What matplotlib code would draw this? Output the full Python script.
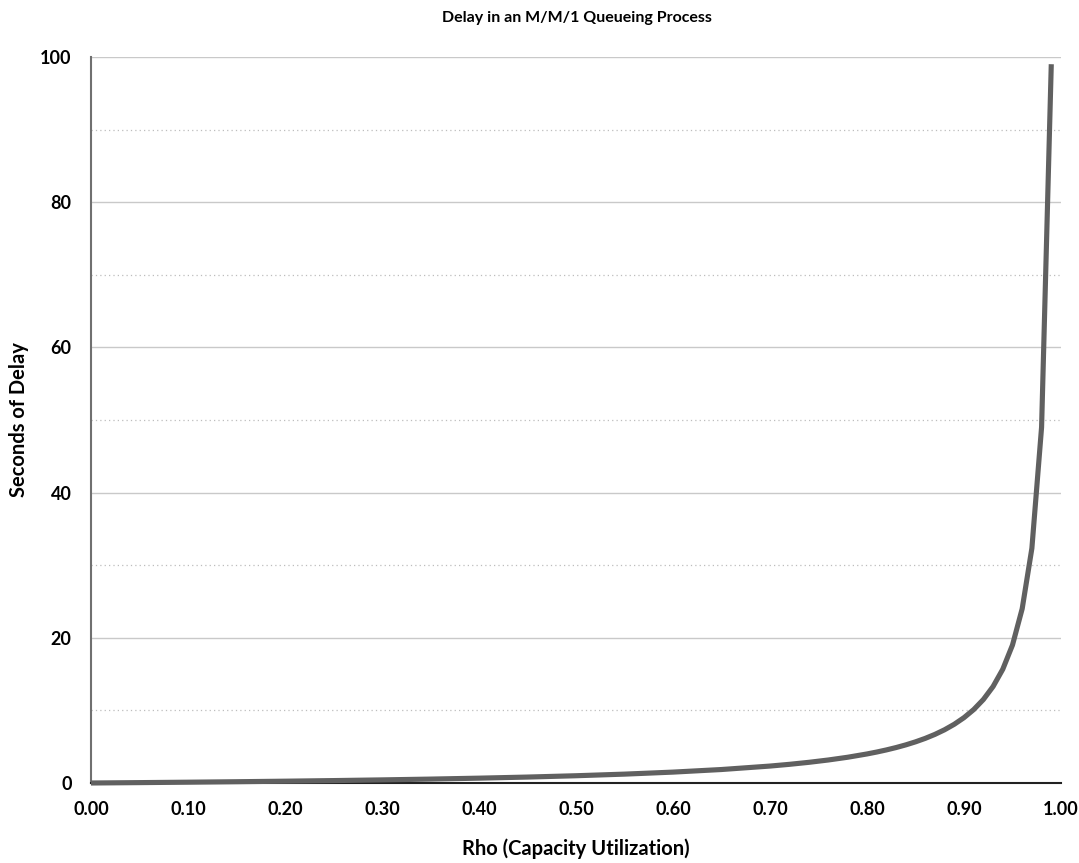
import matplotlib
matplotlib.use("Agg")
import matplotlib.pyplot as plt
from matplotlib.ticker import MultipleLocator, FormatStrFormatter

plt.rcParams['font.family'] = ['Lato', 'DejaVu Sans']

# Utilization (rho) and mean delay for an M/M/1 queue
rho = [0.00, 0.05, 0.10, 0.15, 0.20, 0.25, 0.30, 0.35, 0.40, 0.45,
       0.50, 0.55, 0.60, 0.65, 0.70, 0.72, 0.74, 0.76, 0.78, 0.80,
       0.81, 0.82, 0.83, 0.84, 0.85, 0.86, 0.87, 0.88, 0.89, 0.90,
       0.91, 0.92, 0.93, 0.94, 0.95, 0.96, 0.97, 0.98, 0.99]
delay = [0.0, 0.053, 0.111, 0.176, 0.25, 0.333, 0.429, 0.538, 0.667, 0.818,
         1.0, 1.222, 1.5, 1.857, 2.333, 2.571, 2.846, 3.167, 3.545, 4.0,
         4.263, 4.556, 4.882, 5.25, 5.667, 6.143, 6.692, 7.333, 8.091, 9.0,
         10.11, 11.5, 13.29, 15.67, 19.0, 24.0, 32.33, 49.0, 99.0]

title = "Delay in an M/M/1 Queueing Process"
xlabel = "Rho (Capacity Utilization)"
ylabel = "Seconds of Delay"

fig = plt.figure(figsize=(10.79, 8.63), dpi=100)
ax = fig.add_axes([0.0843, 0.0927, 0.899, 0.8413])

ax.plot(rho, delay, color="#606060", linewidth=3.7, solid_capstyle="butt",
        solid_joinstyle="round", zorder=3, clip_on=False)

ax.set_xlim(0, 1.0)
ax.set_ylim(0, 100)
ax.xaxis.set_major_locator(MultipleLocator(0.1))
ax.xaxis.set_major_formatter(FormatStrFormatter("%.2f"))
ax.yaxis.set_major_locator(MultipleLocator(20))
ax.yaxis.set_minor_locator(MultipleLocator(10))

ax.grid(which="major", axis="y", color="#c9c9c9", linewidth=1.0, linestyle="-")
ax.grid(which="minor", axis="y", color="#bdbdbd", linewidth=0.9, linestyle=(0, (1, 2.5)))
ax.set_axisbelow(True)

for s in ("top", "right"):
    ax.spines[s].set_visible(False)
ax.spines["left"].set_color("#707070")
ax.spines["left"].set_linewidth(1.5)
ax.spines["bottom"].set_color("#222222")
ax.spines["bottom"].set_linewidth(1.5)

ax.tick_params(axis="both", which="both", length=0)
ax.tick_params(axis="x", pad=13, labelsize=13)
ax.tick_params(axis="y", pad=14, labelsize=13)
for lbl in ax.get_xticklabels() + ax.get_yticklabels():
    lbl.set_fontweight("bold")

ax.set_xlabel(xlabel, fontsize=14.5, fontweight="bold", labelpad=15)
ax.set_ylabel(ylabel, fontsize=14.5, fontweight="bold", labelpad=8)
fig.text(0.535, 0.979, title, ha="center", va="center", fontsize=11.5, fontweight="bold")

fig.savefig("out.png", dpi=100)
